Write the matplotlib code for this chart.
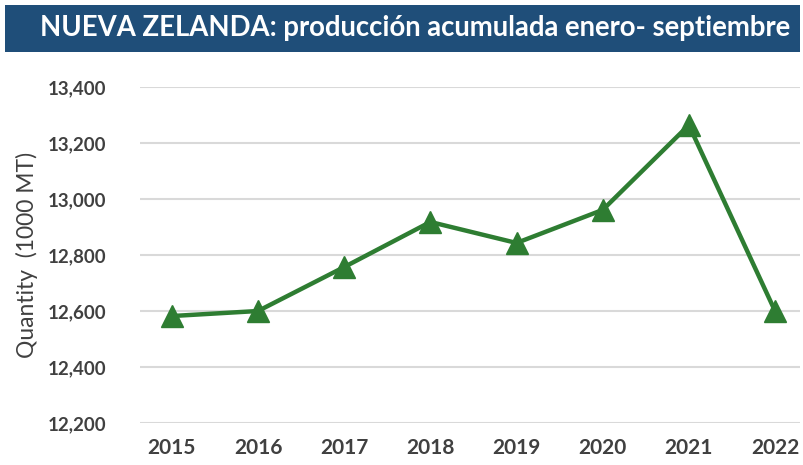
import matplotlib
matplotlib.use("Agg")
import matplotlib.pyplot as plt
from matplotlib.patches import Rectangle
from matplotlib.ticker import FuncFormatter

years = [2015, 2016, 2017, 2018, 2019, 2020, 2021, 2022]
production = [12582, 12600, 12757, 12918, 12843, 12961, 13264, 12600]
yticks = [12200, 12400, 12600, 12800, 13000, 13200, 13400]
title = "NUEVA ZELANDA: producción acumulada enero- septiembre"
ylabel = "Quantity  (1000 MT)"

plt.rcParams['font.family'] = ['Lato', 'DejaVu Sans']

fig = plt.figure(figsize=(8.04, 4.65), dpi=100)
fig.patch.set_facecolor('white')

# title bar
fig.patches.append(Rectangle((5/804, 1-52/465), 795/804, 47/465,
                             transform=fig.transFigure, facecolor='#1F4E79',
                             edgecolor='none', zorder=0))
fig.text(415/804, 1-28/465, title, color='white', fontsize=19.8, fontweight='bold',
         ha='center', va='center')

ax = fig.add_axes([140/804, 1-423/465, 660/804, 336/465])
ax.plot(years, production, color='#2E7D32', lw=3.2, marker='^', markersize=16,
        markeredgecolor='#2E7D32', markerfacecolor='#2E7D32', zorder=3, clip_on=False)
ax.set_ylim(12200, 13400)
ax.set_xlim(2014.63, 2022.29)
ax.set_yticks(yticks)
ax.set_xticks(years)
ax.yaxis.set_major_formatter(FuncFormatter(lambda v, p: f"{int(v):,}"))
ax.grid(axis='y', color='#D9D9D9', lw=1.5)
ax.set_axisbelow(True)
for s in ax.spines.values():
    s.set_visible(False)
ax.tick_params(length=0, labelcolor='#404040')
ax.tick_params(axis='y', pad=24, labelsize=13.5)
ax.tick_params(axis='x', pad=11, labelsize=15)
for lab in ax.get_xticklabels() + ax.get_yticklabels():
    lab.set_fontweight('bold')
ax.set_ylabel(ylabel, fontsize=16.5, color='#404040', labelpad=7)

fig.savefig('out.png', dpi=100)
